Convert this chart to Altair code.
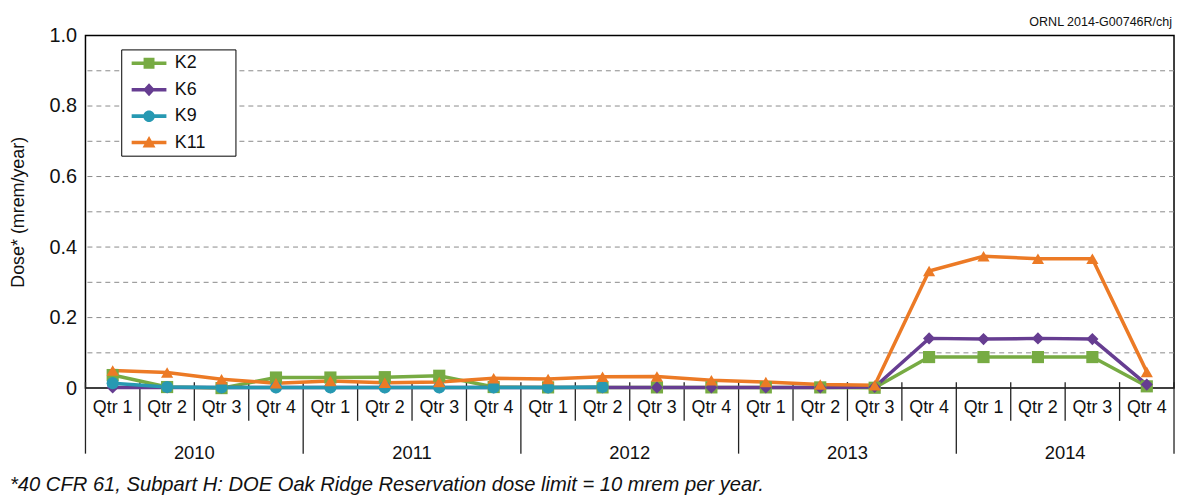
import altair as alt
import pandas as pd

# ---- data ----
years = ["2010", "2011", "2012", "2013", "2014"]
quarter_names = ["Qtr 1", "Qtr 2", "Qtr 3", "Qtr 4"]

series_names = ["K2", "K6", "K9", "K11"]
series_colors = ["#77AB43", "#663D91", "#2799B2", "#EC7A25"]
series_shapes = ["square", "diamond", "circle", "triangle-up"]

k2 = [0.037, 0.003, 0.000, 0.030, 0.030, 0.031, 0.035, 0.003, 0.002, 0.002,
      0.002, 0.002, 0.002, 0.002, 0.001, 0.088, 0.088, 0.088, 0.088, 0.005]
k6 = [0.002, 0.002, 0.002, 0.002, 0.002, 0.002, 0.002, 0.002, 0.002, 0.002,
      0.002, 0.002, 0.002, 0.002, 0.003, 0.141, 0.139, 0.141, 0.139, 0.010]
k9 = [0.014, 0.003, 0.002, 0.002, 0.002, 0.002, 0.002, 0.002, 0.002, 0.003,
      None, None, None, None, None, None, None, None, None, None]
k11 = [0.050, 0.044, 0.025, 0.014, 0.020, 0.015, 0.017, 0.028, 0.026, 0.032,
       0.033, 0.022, 0.017, 0.010, 0.008, 0.332, 0.374, 0.367, 0.367, 0.046]

grid_values = [0.1, 0.2, 0.3, 0.4, 0.5, 0.6, 0.7, 0.8, 0.9]
y_ticks = [0.0, 0.2, 0.4, 0.6, 0.8, 1.0]

footnote = "*40 CFR 61, Subpart H: DOE Oak Ridge Reservation dose limit = 10 mrem per year."
credit = "ORNL 2014-G00746R/chj"

FONT = "Liberation Sans, Arial, sans-serif"

# ---- tables ----
n_q = len(years) * len(quarter_names)
rows = []
for name, vals in zip(series_names, [k2, k6, k9, k11]):
    for i, v in enumerate(vals):
        if v is not None:
            rows.append({"series": name, "pos": i + 0.5, "value": v})
df = pd.DataFrame(rows)

qdf = pd.DataFrame({
    "pos": [i + 0.5 for i in range(n_q)],
    "label": [quarter_names[i % 4] for i in range(n_q)],
})
ydf = pd.DataFrame({
    "pos": [4 * k + 2 for k in range(len(years))],
    "label": years,
})
short_b = pd.DataFrame({"b": [b for b in range(n_q + 1) if b % 4 != 0]})
long_b = pd.DataFrame({"b": [b for b in range(n_q + 1) if b % 4 == 0]})
gdf = pd.DataFrame({"g": grid_values})

W, H = 1096, 355
xscale = alt.Scale(domain=[0, n_q], nice=False, zero=False)
yscale = alt.Scale(domain=[0, 1], nice=False)

color_scale = alt.Scale(domain=series_names, range=series_colors)
shape_scale = alt.Scale(domain=series_names, range=series_shapes)

# legend symbols: line segment + marker (unit coordinates)
def legend_path(marker):
    line = "M-0.35,-0.18H3.15V0.18H-0.35Z"
    return line + " " + marker

legend_paths = [
    legend_path("M0.85,-0.55H1.95V0.55H0.85Z"),
    legend_path("M1.4,-0.65L2.0,0L1.4,0.65L0.8,0Z"),
    legend_path("M0.82,0A0.58,0.58,0,1,1,1.98,0A0.58,0.58,0,1,1,0.82,0Z"),
    legend_path("M1.4,-0.65L2.05,0.5L0.75,0.5Z"),
]
legend_shape_scale = alt.Scale(domain=series_names, range=legend_paths)

base = alt.Chart(df)

grid = alt.Chart(gdf).mark_rule(color="#8a8a8a", strokeWidth=1, strokeDash=[5, 4]).encode(
    y=alt.Y("g:Q", scale=yscale,
            axis=alt.Axis(values=y_ticks, grid=False, ticks=False, domain=False,
                          labelFont=FONT, labelFontSize=20, labelColor="#111",
                          labelPadding=9,
                          labelExpr="datum.value == 0 ? '0' : format(datum.value, '.1f')",
                          title="Dose* (mrem/year)", titleFont=FONT, titleFontSize=18,
                          titleFontWeight="normal", titleColor="#111",
                          titleX=-58, titleY=H / 2, titleAngle=270, titleBaseline="bottom")),
)

short_rules = alt.Chart(short_b).mark_rule(color="#222", strokeWidth=1.3).encode(
    x=alt.X("b:Q", scale=xscale, axis=None),
    y=alt.value(349), y2=alt.value(388),
)
long_rules = alt.Chart(long_b).mark_rule(color="#222", strokeWidth=1.3).encode(
    x=alt.X("b:Q", scale=xscale, axis=None),
    y=alt.value(349), y2=alt.value(421),
)
q_text = alt.Chart(qdf).mark_text(font=FONT, fontSize=18, color="#111", baseline="middle").encode(
    x=alt.X("pos:Q", scale=xscale, axis=None),
    y=alt.value(375),
    text="label:N",
)
y_text = alt.Chart(ydf).mark_text(font=FONT, fontSize=18.5, color="#111", baseline="middle").encode(
    x=alt.X("pos:Q", scale=xscale, axis=None),
    y=alt.value(420),
    text="label:N",
)
foot = alt.Chart(pd.DataFrame({"t": [footnote]})).mark_text(
    font=FONT, fontSize=20.3, fontStyle="italic", color="#111", align="left", baseline="middle"
).encode(x=alt.value(-76), y=alt.value(453), text="t:N")
cred = alt.Chart(pd.DataFrame({"t": [credit]})).mark_text(
    font=FONT, fontSize=12.6, color="#111", align="right", baseline="middle"
).encode(x=alt.value(W - 2), y=alt.value(-14), text="t:N")

lines = base.mark_line(strokeWidth=3.5).encode(
    x=alt.X("pos:Q", scale=xscale, axis=None),
    y=alt.Y("value:Q", scale=yscale),
    color=alt.Color("series:N", scale=color_scale, legend=None),
    detail="series:N",
    order="pos:Q",
)
points = base.mark_point(filled=True, size=150, opacity=1).encode(
    x=alt.X("pos:Q", scale=xscale, axis=None),
    y=alt.Y("value:Q", scale=yscale),
    color=alt.Color("series:N", scale=color_scale, legend=None),
    shape=alt.Shape("series:N", scale=shape_scale, legend=None),
)

legend_spec = dict(orient="none", legendX=36, legendY=14,
                   title="\u00a0", titleOrient="right", titlePadding=26,
                   titleFontSize=4,
                   strokeColor="black", fillColor="white", padding=4,
                   labelFont=FONT, labelFontSize=18, labelColor="#111",
                   symbolSize=400, symbolStrokeWidth=0, symbolOpacity=1,
                   labelOffset=30, rowPadding=7.6)

legend_layer = base.mark_point(filled=True, size=0).encode(
    x=alt.X("pos:Q", scale=xscale, axis=None),
    y=alt.Y("value:Q", scale=yscale),
    color=alt.Color("series:N", scale=color_scale, legend=alt.Legend(**legend_spec)),
    shape=alt.Shape("series:N", scale=legend_shape_scale, legend=alt.Legend(**legend_spec)),
)

chart = alt.layer(
    grid, short_rules, long_rules, q_text, y_text, foot, cred, lines, points, legend_layer
).resolve_scale(
    color="independent", shape="independent"
).properties(
    width=W, height=H,
    autosize=alt.AutoSizeParams(type="none"),
    padding={"left": 78, "top": 26, "right": 2, "bottom": 115},
).configure_view(
    stroke="black", strokeWidth=1.5
)

chart.save("out.html", embed_options={"renderer": "svg", "actions": False})
